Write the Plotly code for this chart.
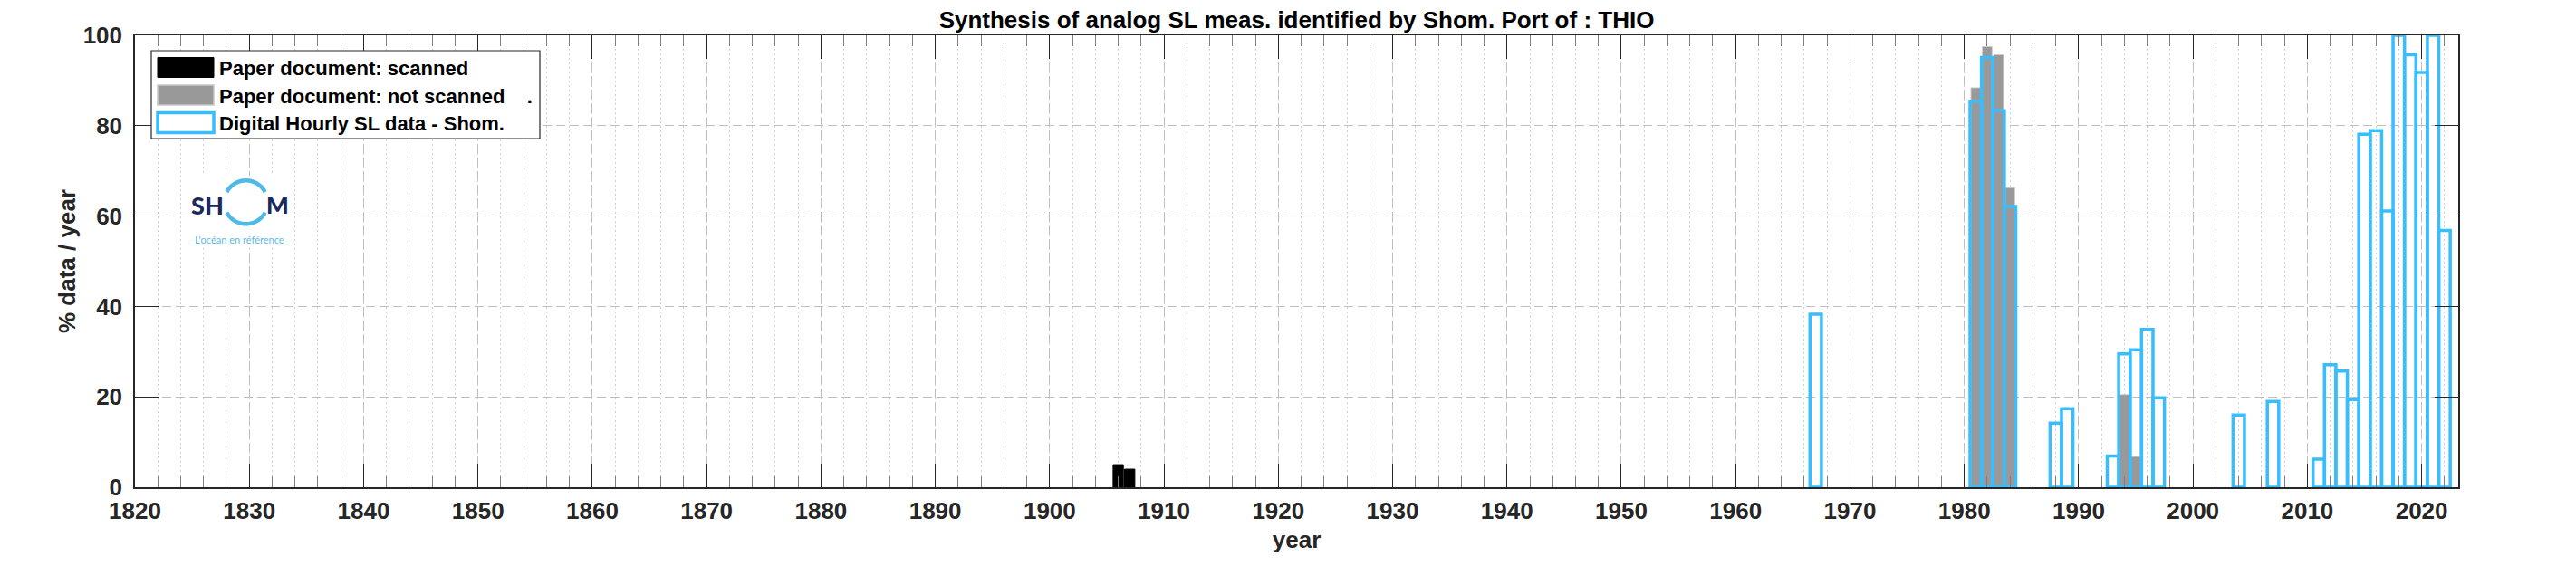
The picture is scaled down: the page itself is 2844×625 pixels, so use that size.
import numpy as np
import plotly.graph_objects as go

# ---------------- data ----------------
scanned_years = [1906, 1907]
scanned_pct = [5.0, 4.0]

notscanned_years = [1981, 1982, 1983, 1984, 1994, 1995]
notscanned_pct = [88.4, 97.5, 95.7, 66.3, 20.5, 6.8]

digital_years = [1967, 1981, 1982, 1983, 1984, 1988, 1989, 1993, 1994, 1995,
                 1996, 1997, 2004, 2007, 2011, 2012, 2013, 2014, 2015, 2016,
                 2017, 2018, 2019, 2020, 2021, 2022]
digital_pct = [38.3, 85.4, 95.1, 83.3, 62.1, 14.2, 17.4, 6.9, 29.5, 30.4,
               34.9, 19.8, 16.0, 19.0, 6.2, 27.1, 25.7, 19.4, 78.1, 78.9,
               61.1, 100.0, 95.7, 91.8, 100.0, 56.8]

x_tick_vals = [1820, 1830, 1840, 1850, 1860, 1870, 1880, 1890, 1900, 1910, 1920,
               1930, 1940, 1950, 1960, 1970, 1980, 1990, 2000, 2010, 2020]
x_tick_labels = ["1820", "1830", "1840", "1850", "1860", "1870", "1880", "1890",
                 "1900", "1910", "1920", "1930", "1940", "1950", "1960", "1970",
                 "1980", "1990", "2000", "2010", "2020"]
y_tick_vals = [0, 20, 40, 60, 80, 100]
y_tick_labels = ["0", "20", "40", "60", "80", "100"]

legend_labels = ["Paper document: scanned",
                 "Paper document: not scanned\u00a0\u00a0\u00a0 .",
                 "Digital Hourly SL data - Shom."]

title_text = "Synthesis of analog SL meas. identified by Shom. Port of : THIO"
x_title = "year"
y_title = "% data / year"

# ---------------- styling ----------------
W, H = 2844, 625
L, R, T, B = 141, 138, 31, 95
AX_BOTTOM = H - B          # pixel row of the x axis
FONT = "Liberation Sans, Arial, sans-serif"
LOGO_FONT = "Lato, Open Sans, sans-serif"
BLUE = "#38bdfe"
GRAY = "#999999"
AXC = "#262626"

fig = go.Figure()
fig.add_trace(go.Bar(x=scanned_years, y=scanned_pct, width=0.9,
                     marker=dict(color="black", line=dict(color="black", width=1)),
                     name=legend_labels[0], showlegend=False))
fig.add_trace(go.Bar(x=notscanned_years, y=notscanned_pct, width=0.85,
                     marker=dict(color=GRAY, line=dict(color="#cfcfcf", width=1)),
                     name=legend_labels[1], showlegend=False))
fig.add_trace(go.Bar(x=digital_years, y=digital_pct, width=1.0,
                     marker=dict(color="rgba(0,0,0,0)", line=dict(color=BLUE, width=3.5)),
                     name=legend_labels[2], showlegend=False))

tickfont = dict(family=FONT, size=26, color=AXC, weight="bold")
axtitlefont = dict(family=FONT, size=26, color=AXC, weight="bold")

fig.update_layout(
    width=W, height=H,
    margin=dict(l=L, r=R, t=T, b=B, pad=0),
    paper_bgcolor="white", plot_bgcolor="white",
    barmode="overlay",
    showlegend=False,
    title=dict(text=title_text, x=0.5, xref="paper", xanchor="center",
               y=1 - 14 / H, yref="container", yanchor="middle",
               font=dict(family=FONT, size=26, color="black", weight="bold")),
    xaxis=dict(
        range=[1820, 2023.2], tickmode="array", tickvals=x_tick_vals, ticktext=x_tick_labels,
        ticks="inside", ticklen=26, tickwidth=1.3, tickcolor=AXC,
        showline=True, linecolor=AXC, linewidth=1.5, mirror="allticks",
        showgrid=True, gridcolor="rgb(190,190,190)", gridwidth=1.2, griddash="10px,5px",
        zeroline=False, tickfont=tickfont, ticklabelstandoff=2,
        minor=dict(dtick=2, tick0=1820, ticks="inside", ticklen=12, tickwidth=1.3,
                   tickcolor="#7f7f7f", showgrid=True, gridcolor="rgb(208,208,208)",
                   gridwidth=1, griddash="2px,3px"),
        title=dict(text=x_title, standoff=9, font=axtitlefont),
    ),
    yaxis=dict(
        range=[0, 100], tickmode="array", tickvals=y_tick_vals, ticktext=y_tick_labels,
        ticks="inside", ticklen=26, tickwidth=1.3, tickcolor=AXC,
        showline=True, linecolor=AXC, linewidth=1.5, mirror="allticks",
        showgrid=True, gridcolor="rgb(190,190,190)", gridwidth=1.2, griddash="10px,5px",
        zeroline=False, tickfont=tickfont, ticklabelstandoff=7,
        title=dict(text=y_title, standoff=1, font=axtitlefont),
    ),
)

# ---------------- pixel-positioned decorations (legend box, logo) ----------------
def ox(xabs):
    return xabs - L

def oy(yabs):
    return AX_BOTTOM - yabs

def pix_shape(**kw):
    base = dict(xref="paper", yref="paper", xsizemode="pixel", ysizemode="pixel",
                xanchor=0, yanchor=0, layer="above")
    base.update(kw)
    return base

def pix_text(text, xabs, yabs, xanchor, size, color, family=FONT, weight="bold"):
    return dict(text=text, x=0, y=0, xref="paper", yref="paper", showarrow=False,
                xshift=ox(xabs), yshift=oy(yabs), xanchor=xanchor, yanchor="middle",
                borderpad=0, font=dict(family=family, size=size, color=color, weight=weight))

shapes = []
annotations = []

# Logo (white background, ring, letters, tagline)
shapes.append(pix_shape(type="rect", x0=ox(200), x1=ox(312), y0=oy(266), y1=oy(186),
                        fillcolor="white", line=dict(width=0)))
cx, cy, rr = 263.5, 215.3, 24
for a0, a1 in [(28, 152), (208, 332)]:
    ang = np.radians(np.linspace(a0, a1, 40))
    pts = [(ox(cx + rr * np.cos(a)), oy(cy - rr * np.sin(a))) for a in ang]
    path = "M " + " L ".join(f"{px:.2f},{py:.2f}" for px, py in pts)
    shapes.append(pix_shape(type="path", path=path, line=dict(color="#4fb9e8", width=4.5)))
annotations.append(pix_text("SH", 240, 218, "right", 27, "#1b2a5c", family=LOGO_FONT, weight=900))
annotations.append(pix_text("M", 285, 218, "left", 26, "#1b2a5c", family=LOGO_FONT, weight=900))
annotations.append(pix_text("L'océan en référence", 256, 256, "center", 11, "#5bbbe8",
                            family=LOGO_FONT, weight="normal"))

# Legend box
shapes.append(pix_shape(type="rect", x0=ox(159), x1=ox(588), y0=oy(145), y1=oy(48),
                        fillcolor="white", line=dict(color=AXC, width=1.2)))
rows = [66.5, 97.0, 127.5]
swatch_styles = [
    dict(fillcolor="black", line=dict(color="black", width=1)),
    dict(fillcolor=GRAY, line=dict(color="#c8c8c8", width=1.5)),
    dict(fillcolor="white", line=dict(color=BLUE, width=3.5)),
]
for ry, st, lab in zip(rows, swatch_styles, legend_labels):
    shapes.append(pix_shape(type="rect", x0=ox(166), x1=ox(228), y0=oy(ry + 11), y1=oy(ry - 11), **st))
    annotations.append(pix_text(lab, 233, ry + 1, "left", 22, "black"))

fig.update_layout(shapes=shapes, annotations=annotations)

fig.write_html("out.html")
